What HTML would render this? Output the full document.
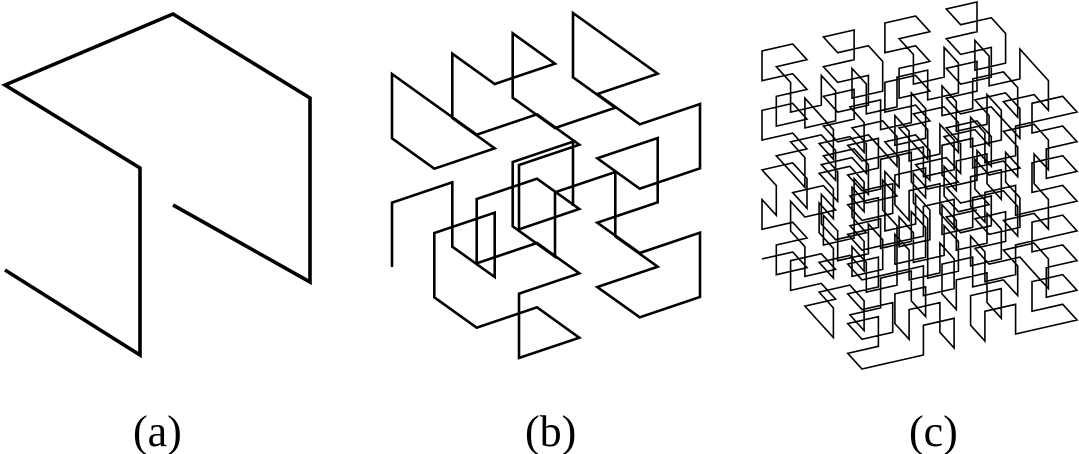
<!DOCTYPE html>
<html><head><meta charset="utf-8"><style>
html,body{margin:0;padding:0;background:#fff;width:1079px;height:454px;overflow:hidden}
svg{display:block}
text{font-family:"Liberation Serif",serif;font-size:44px;fill:#000}
</style></head><body>
<svg id="s" width="1079" height="454" viewBox="0 0 1079 454" xmlns="http://www.w3.org/2000/svg">
<polyline points="5,270 140,355 140,168 5,85 173,14 310,98 310,282 173,205" fill="none" stroke="#000" stroke-width="3.6" stroke-linejoin="miter"/>
<g id="g"></g>
<text x="133" y="446">(a)</text>
<text x="525" y="446">(b)</text>
<text x="909" y="446">(c)</text>
</svg>
<script>
function H(n){
 if(n==1) return [[0,0,0],[1,0,0],[1,1,0],[0,1,0],[0,1,1],[1,1,1],[1,0,1],[0,0,1]];
 var B=H(n-1), h=1<<(n-1), L=[];
 B.forEach(function(p){L.push([p[2],p[0],p[1]]);});
 B.forEach(function(p){L.push([p[1]+h,p[2],p[0]]);});
 B.forEach(function(p){L.push([p[1]+h,p[2]+h,p[0]]);});
 B.forEach(function(p){L.push([h-1-p[0],2*h-1-p[1],p[2]]);});
 var R=L.slice().reverse().map(function(p){return [p[0],p[1],2*h-1-p[2]];});
 return L.concat(R);
}
function draw(n,O,A,Bv,C,sw){var M=(1<<n)-1;var p=H(n);
 var s=p.map(function(q){var a=q[0]/M,b=q[1]/M,c=q[2]/M;return (O[0]+a*A[0]+b*Bv[0]+c*C[0]).toFixed(1)+","+(O[1]+a*A[1]+b*Bv[1]+c*C[1]).toFixed(1);}).join(" ");
 var e=document.createElementNS("http://www.w3.org/2000/svg","polyline");
 e.setAttribute("points",s);e.setAttribute("fill","none");e.setAttribute("stroke","#000");e.setAttribute("stroke-width",sw);
 document.getElementById("g").appendChild(e);}
draw(2,[392,267],[127,91],[0,-193],[181,-61],2.6);
draw(3,[762,259],[100,110],[0,-208],[215,-49],1.6);
</script>
</body></html>
